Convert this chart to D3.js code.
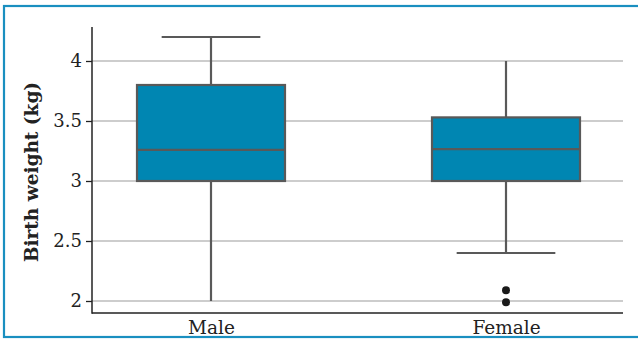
<!DOCTYPE html>
<html><head><meta charset="utf-8">
<script src="https://cdn.jsdelivr.net/npm/d3@7"></script>
<style>body{margin:0;background:#fff}svg{display:block}</style>
</head><body>
<svg id="c" width="638" height="341"></svg>
<script>
const categories = ["Male", "Female"];
const lowerWhisker = [2.0, 2.4];
const q1 = [3.0, 3.0];
const median = [3.26, 3.265];
const q3 = [3.8, 3.53];
const upperWhisker = [4.2, 4.0];
const whiskerCaps = [[4.2], [2.4]];
const outliers = [[], [2.09, 1.99]];
const yTicks = [2, 2.5, 3, 3.5, 4];
const yTickLabels = ["2", "2.5", "3", "3.5", "4"];

(function () {
const svg = d3.select("#c");
const font = "'DejaVu Serif', serif";
const pl = 92, pr = 623, pt = 27, pb = 313;
const y = d3.scaleLinear().domain([1.9, 4.2833]).range([pb, pt]);
const x = d3.scalePoint().domain(categories).range([211, 506]);
const bw = 148;

// grid
svg.append("g").selectAll("line").data(yTicks).join("line")
  .attr("x1", pl).attr("x2", pr).attr("y1", d => y(d)).attr("y2", d => y(d))
  .attr("stroke", "#bdbdbd").attr("stroke-width", 1.3);

// y axis
const yAxis = d3.axisLeft(y).tickValues(yTicks).tickFormat((d, i) => yTickLabels[i]).tickSize(6).tickPadding(4);
const gy = svg.append("g").attr("transform", `translate(${pl},0)`).call(yAxis);
gy.select(".domain").remove();
gy.selectAll(".tick line").attr("stroke", "#222").attr("stroke-width", 1.3);
gy.selectAll(".tick text").attr("fill", "#222").style("font-family", font).style("font-size", "18px");
svg.append("line").attr("x1", pl).attr("x2", pl).attr("y1", pt).attr("y2", pb + 0.7)
  .attr("stroke", "#222").attr("stroke-width", 1.5);

// x axis
const xAxis = d3.axisBottom(x).tickSize(0).tickPadding(8);
const gx = svg.append("g").attr("transform", `translate(0,${pb})`).call(xAxis);
gx.select(".domain").remove();
gx.selectAll(".tick text").attr("fill", "#222").style("font-family", font).style("font-size", "18.5px");
svg.append("line").attr("x1", pl).attr("x2", pr).attr("y1", pb).attr("y2", pb)
  .attr("stroke", "#222").attr("stroke-width", 1.5);

// y title
svg.append("text").attr("transform", `translate(38,${(pt + pb) / 2 + 2}) rotate(-90)`)
  .attr("text-anchor", "middle").style("font-family", font).style("font-size", "18.5px")
  .style("font-weight", "bold").attr("fill", "#222").text("Birth weight (kg)");

// boxes
const stroke = "#595959";
categories.forEach((c, i) => {
  const cx = x(c);
  const g = svg.append("g");
  g.append("line").attr("x1", cx).attr("x2", cx).attr("y1", y(upperWhisker[i])).attr("y2", y(q3[i]))
    .attr("stroke", stroke).attr("stroke-width", 2.2);
  g.append("line").attr("x1", cx).attr("x2", cx).attr("y1", y(q1[i])).attr("y2", y(lowerWhisker[i]))
    .attr("stroke", stroke).attr("stroke-width", 2.2);
  g.selectAll("line.cap").data(whiskerCaps[i]).join("line").attr("class", "cap")
    .attr("x1", cx - bw / 3).attr("x2", cx + bw / 3).attr("y1", d => y(d)).attr("y2", d => y(d))
    .attr("stroke", stroke).attr("stroke-width", 2.2);
  g.append("rect").attr("x", cx - bw / 2).attr("width", bw).attr("y", y(q3[i])).attr("height", y(q1[i]) - y(q3[i]))
    .attr("fill", "#0086b2").attr("stroke", stroke).attr("stroke-width", 2.2);
  g.append("line").attr("x1", cx - bw / 2).attr("x2", cx + bw / 2).attr("y1", y(median[i])).attr("y2", y(median[i]))
    .attr("stroke", stroke).attr("stroke-width", 2.2);
  g.selectAll("circle").data(outliers[i]).join("circle")
    .attr("cx", cx).attr("cy", d => y(d)).attr("r", 4).attr("fill", "#1a1a1a");
});

// frame (drawn last, over the labels like the reference)
svg.append("rect").attr("x", 4).attr("y", 6).attr("width", 640).attr("height", 331)
  .attr("fill", "none").attr("stroke", "#1a8fc0").attr("stroke-width", 2.2);
})();
</script>
</body></html>
